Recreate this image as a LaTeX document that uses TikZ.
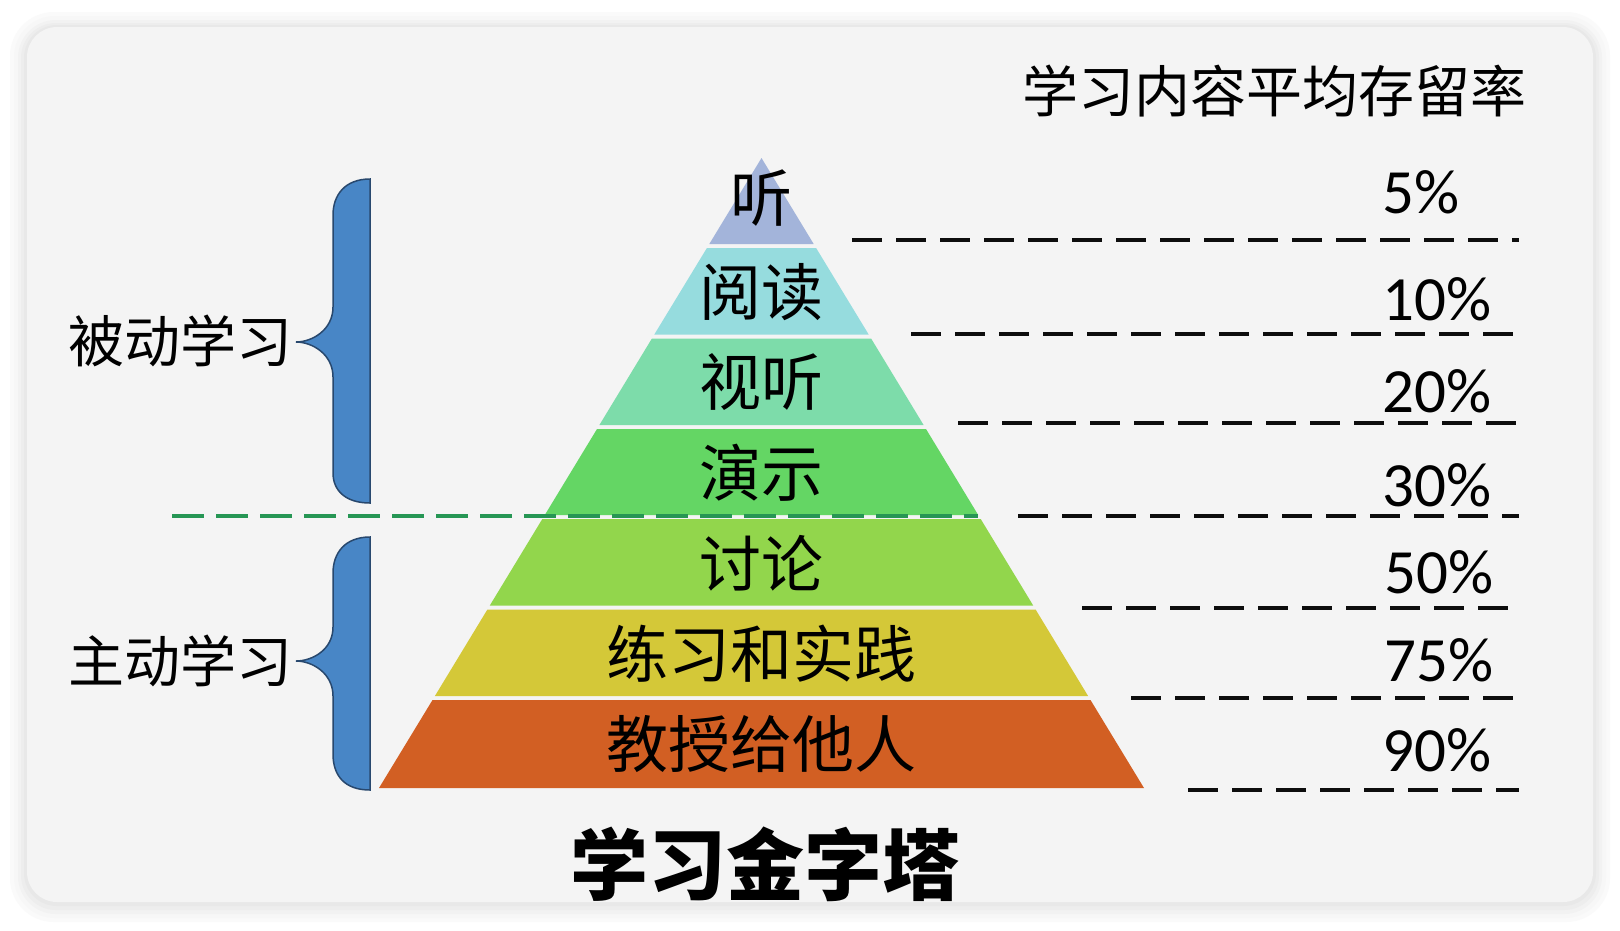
\documentclass[tikz,border=0pt]{standalone}
\usepackage{fontspec}
\usepackage{xcolor}
\usepackage{tikz}
\usetikzlibrary{calc}
\newfontfamily\cjk{Noto Sans CJK SC}
\newfontfamily\pct{Carlito}
\definecolor{cardgray}{RGB}{244,244,244}
\definecolor{tlisten}{RGB}{163,180,218}
\definecolor{tread}{RGB}{150,220,222}
\definecolor{tav}{RGB}{125,220,170}
\definecolor{tdemo}{RGB}{100,214,100}
\definecolor{tdisc}{RGB}{146,214,76}
\definecolor{tprac}{RGB}{212,200,56}
\definecolor{tteach}{RGB}{210,95,35}
\definecolor{bracefill}{RGB}{72,134,198}
\definecolor{braceline}{RGB}{40,72,110}
\definecolor{sepgreen}{RGB}{38,150,84}

\begin{document}
\begin{tikzpicture}[x=1pt,y=-1pt,
  layer/.style={font=\cjk\fontsize{62}{62}\selectfont,inner sep=0pt},
  side/.style={font=\cjk\fontsize{56}{56}\selectfont,inner sep=0pt,anchor=east},
  rate/.style={font=\pct\fontsize{63}{63}\selectfont,inner sep=0pt,anchor=base west},
  ratedash/.style={black!95,line width=4.5pt,dash pattern=on 30pt off 14pt},
  splitdash/.style={sepgreen,line width=4pt,dash pattern=on 32pt off 12pt},
  brace/.style={fill=bracefill,draw=braceline,line width=1.5pt}]
  \useasboundingbox (0,0) rectangle (1620,930);
  \fill[white] (0,0) rectangle (1620,930);
  % card with soft shadow
  \fill[black!2,rounded corners=44] (10,12) rectangle (1610,922);
  \fill[black!3,rounded corners=41] (14,16) rectangle (1606,918);
  \fill[black!5,rounded corners=38] (18,20) rectangle (1602,914);
  \fill[black!7,rounded corners=35] (21,23) rectangle (1599,910);
  \fill[black!9,rounded corners=33] (24,25) rectangle (1596,906);
  \fill[cardgray,rounded corners=30] (27,27) rectangle (1593,902);

  % pyramid layers
  \fill[tlisten] (761.5,158) -- (709.3,244) -- (813.7,244) -- cycle;
  \fill[tread] (706.9,248) -- (654.3,334.5) -- (868.7,334.5) -- (816.1,248) -- cycle;
  \fill[tav] (651.9,338.5) -- (599.4,425) -- (923.6,425) -- (871.1,338.5) -- cycle;
  \fill[tdemo] (597.0,429) -- (544.8,515) -- (978.2,515) -- (926.0,429) -- cycle;
  \fill[tdisc] (542.3,519) -- (489.8,605.5) -- (1033.2,605.5) -- (980.7,519) -- cycle;
  \fill[tprac] (487.4,609.5) -- (434.9,696) -- (1088.1,696) -- (1035.6,609.5) -- cycle;
  \fill[tteach] (432.5,700) -- (379,788) -- (1144,788) -- (1090.5,700) -- cycle;

  \node[layer] (listen) at (761.5,198) {听};
  \node[layer] (read) at (761.5,292) {阅读};
  \node[layer] (av) at (761.5,382) {视听};
  \node[layer] (demo) at (761.5,473) {演示};
  \node[layer] (disc) at (761.5,563) {讨论};
  \node[layer] (prac) at (761.5,654) {练习和实践};
  \node[layer] (teach) at (761.5,744) {教授给他人};

  % passive / active split
  \coordinate (spa) at (172,516);
  \coordinate (spb) at (978,516);
  \draw[splitdash] (spa) -- (spb);

  % braces
  \draw[brace] (370,179) .. controls (345,179) and (333,195) .. (333,215) -- (333,307)
    .. controls (333,330) and (312,342) .. (296,342) .. controls (312,342) and (333,354) .. (333,377)
    -- (333,473) .. controls (333,490) and (345,503) .. (370,503) -- cycle;
  \draw[brace] (370,537) .. controls (345,537) and (333,553) .. (333,573) -- (333,627)
    .. controls (333,650) and (312,661) .. (296,661) .. controls (312,661) and (333,673) .. (333,696)
    -- (333,754) .. controls (333,776) and (345,790) .. (370,790) -- cycle;
  \node[side] (passive) at (293,341) {被动学习};
  \node[side] (active) at (293,661) {主动学习};

  % retention column
  \node[font=\cjk\fontsize{56}{56}\selectfont,inner sep=0pt] (head) at (1274,91) {学习内容平均存留率};
  \node[rate] (r5) at (1382,213) {5\%};
  \node[rate] (r10) at (1382,320) {10\%};
  \node[rate] (r20) at (1382,412) {20\%};
  \node[rate] (r30) at (1382,506) {30\%};
  \node[rate] (r50) at (1384,593) {50\%};
  \node[rate] (r75) at (1384,681) {75\%};
  \node[rate] (r90) at (1382,771) {90\%};

  \coordinate (d1a) at (852,240);  \coordinate (d1b) at (1519,240);
  \coordinate (d2a) at (911,334);  \coordinate (d2b) at (1517,334);
  \coordinate (d3a) at (958,423);  \coordinate (d3b) at (1519,423);
  \coordinate (d4a) at (1018,516); \coordinate (d4b) at (1519,516);
  \coordinate (d5a) at (1082,608); \coordinate (d5b) at (1512,608);
  \coordinate (d6a) at (1131,698); \coordinate (d6b) at (1517,698);
  \coordinate (d7a) at (1188,790); \coordinate (d7b) at (1519,790);
  \draw[ratedash] (d1a) -- (d1b);
  \draw[ratedash] (d2a) -- (d2b);
  \draw[ratedash] (d3a) -- (d3b);
  \draw[ratedash] (d4a) -- (d4b);
  \draw[ratedash] (d5a) -- (d5b);
  \draw[ratedash] (d6a) -- (d6b);
  \draw[ratedash] (d7a) -- (d7b);

  \node[font=\cjk\bfseries\fontsize{78}{78}\selectfont,inner sep=0pt] (title) at (765,864) {学习金字塔};
\end{tikzpicture}
\end{document}
